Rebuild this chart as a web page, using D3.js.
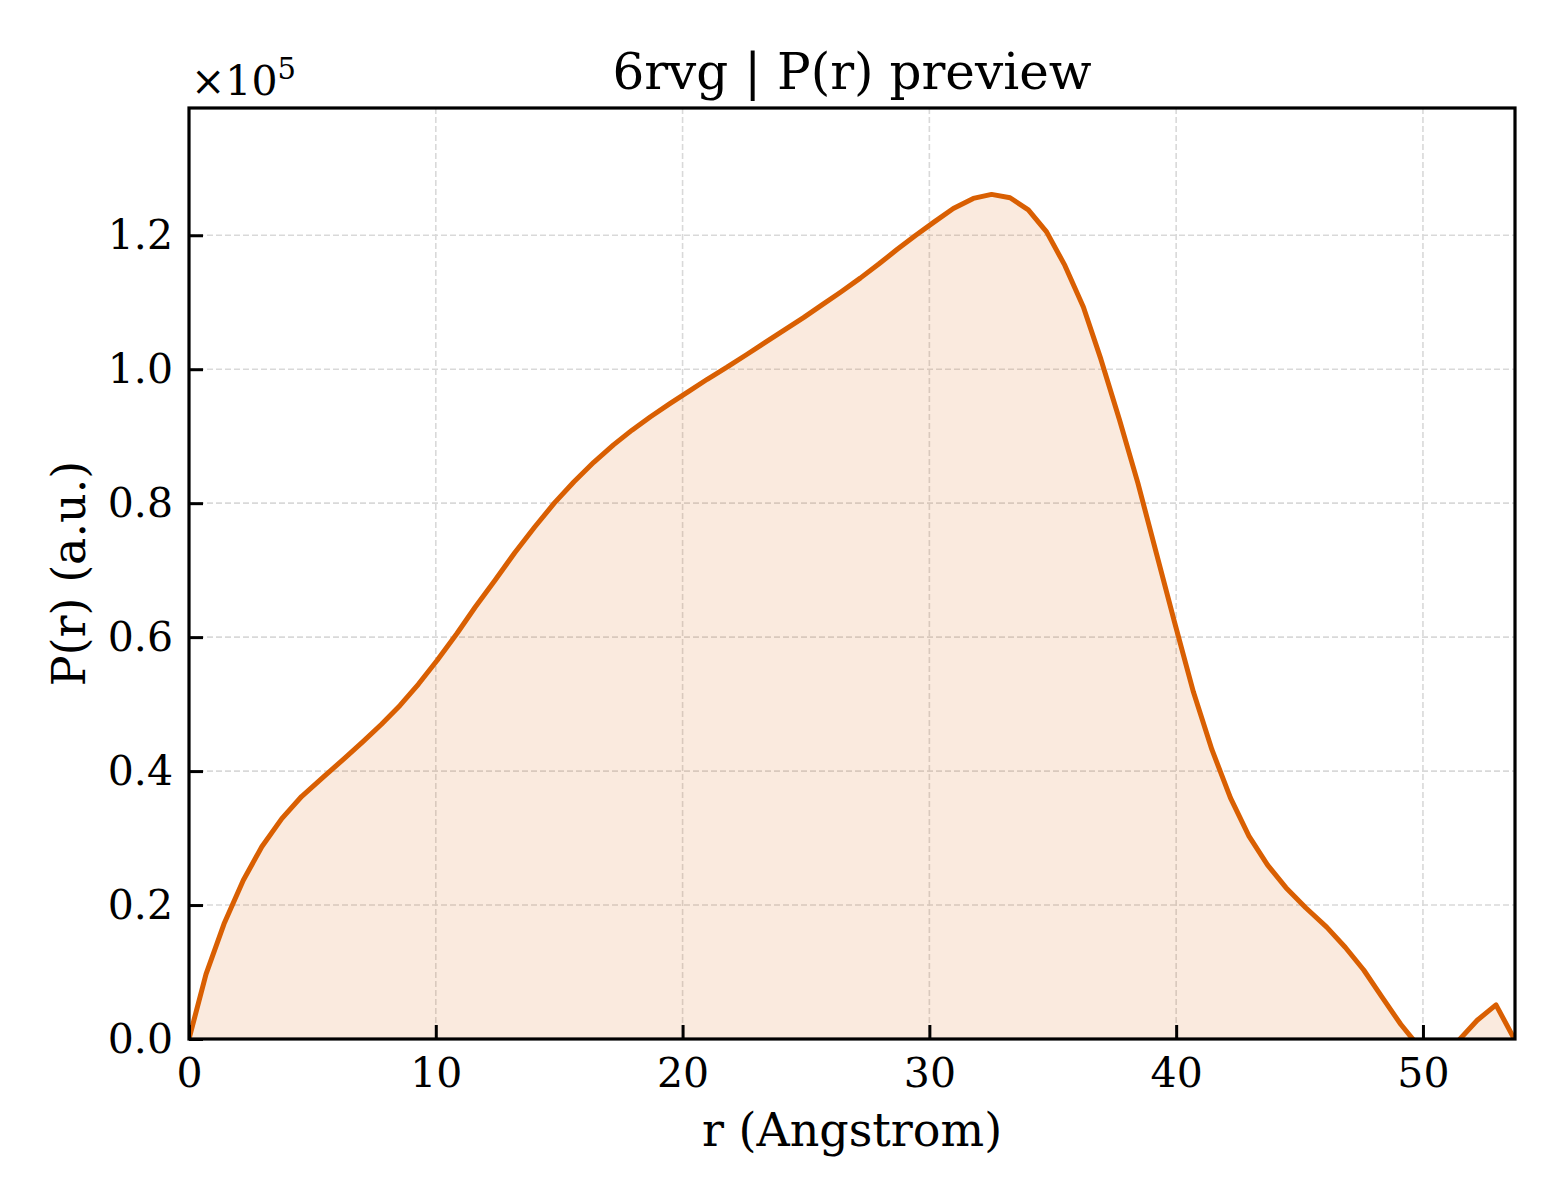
<!DOCTYPE html>
<html>
<head>
<meta charset="utf-8">
<script src="https://cdn.jsdelivr.net/npm/d3@7"></script>
<style>
  html, body { margin: 0; padding: 0; background: #fff; }
  svg { display: block; }
  text { font-family: "DejaVu Serif", serif; fill: #000; }
</style>
</head>
<body>
<svg id="chart" width="1560" height="1200"></svg>
<script>
// ---- data (r in Angstrom, P(r) in a.u.) ----
const rValues = [
  0, 0.69, 1.42, 2.2, 2.95, 3.76, 4.56, 5.44, 6.3, 7.05, 7.8, 8.55, 9.3, 10.05,
  10.85, 11.6, 12.4, 13.2, 14.0, 14.8, 15.6, 16.4, 17.2, 17.95, 18.7, 19.5,
  20.25, 21.0, 21.8, 22.6, 23.35, 24.1, 24.9, 25.65, 26.4, 27.2, 27.95, 28.7,
  29.45, 30.2, 30.97, 31.78, 32.52, 33.27, 34.01, 34.75, 35.49, 36.24, 36.95,
  37.7, 38.45, 39.2, 39.95, 40.7, 41.45, 42.2, 42.95, 43.7, 44.45, 45.25, 46.1,
  46.85, 47.6, 48.35, 49.1, 49.85, 50.6, 51.4, 52.2, 52.96, 53.73
];
const pValues = [
  0, 9700, 17200, 23700, 28700, 32900, 36200, 39100, 41900, 44400, 47000, 49800,
  53000, 56500, 60500, 64500, 68500, 72600, 76400, 80000, 83200, 86100, 88700,
  90900, 92900, 94900, 96700, 98500, 100300, 102200, 104000, 105800, 107700,
  109600, 111500, 113600, 115700, 117900, 120000, 122000, 124000, 125500,
  126100, 125600, 123800, 120500, 115500, 109300, 101500, 92500, 83000, 72500,
  62000, 51800, 43200, 36000, 30300, 26000, 22600, 19600, 16700, 13700, 10300,
  6200, 2200, -1200, -2000, -400, 2800, 5100, -200
];
const xTicks = [0, 10, 20, 30, 40, 50];
const yTicks = [0, 20000, 40000, 60000, 80000, 100000, 120000];
const titleText = "6rvg | P(r) preview";
const xLabelText = "r (Angstrom)";
const yLabelText = "P(r) (a.u.)";

// ---- layout ----
const svg = d3.select("#chart");
const L = 189, R = 1515, T = 108, B = 1039;
const x = d3.scaleLinear().domain([0, 53.73]).range([L, R]);
const y = d3.scaleLinear().domain([0, 139000]).range([B, T]);
const lineColor = "#d95f02";

const data = rValues.map((r, i) => ({ r, p: pValues[i] }));

svg.append("defs").append("clipPath").attr("id", "clip")
  .append("rect").attr("x", L).attr("y", T).attr("width", R - L).attr("height", B - T);

// grid
const grid = svg.append("g");
grid.selectAll("line.gx").data(xTicks).join("line")
  .attr("x1", d => x(d)).attr("x2", d => x(d)).attr("y1", T).attr("y2", B)
  .attr("stroke", "#d9d9d9").attr("stroke-width", 1.6).attr("stroke-dasharray", "6,3");
grid.selectAll("line.gy").data(yTicks).join("line")
  .attr("x1", L).attr("x2", R).attr("y1", d => y(d)).attr("y2", d => y(d))
  .attr("stroke", "#d9d9d9").attr("stroke-width", 1.6).attr("stroke-dasharray", "6,3");

const plot = svg.append("g").attr("clip-path", "url(#clip)");
plot.append("path").datum(data)
  .attr("d", d3.area().x(d => x(d.r)).y0(y(0)).y1(d => y(d.p)))
  .attr("fill", lineColor).attr("fill-opacity", 0.13);
plot.append("path").datum(data)
  .attr("d", d3.line().x(d => x(d.r)).y(d => y(d.p)))
  .attr("fill", "none").attr("stroke", lineColor).attr("stroke-width", 5)
  .attr("stroke-linejoin", "round");

// axes (inward ticks)
const xAxis = svg.append("g").attr("transform", `translate(0,${B})`)
  .call(d3.axisBottom(x).tickValues(xTicks).tickSize(-14).tickPadding(19).tickFormat(d3.format("d")));
const yAxis = svg.append("g").attr("transform", `translate(${L},0)`)
  .call(d3.axisLeft(y).tickValues(yTicks).tickSize(-14).tickPadding(16).tickFormat(d => (d / 1e5).toFixed(1)));
[xAxis, yAxis].forEach(a => {
  a.select(".domain").remove();
  a.selectAll(".tick line").attr("stroke", "#000").attr("stroke-width", 3);
  a.selectAll(".tick text").attr("font-family", "DejaVu Serif").attr("font-size", 41).attr("fill", "#000");
});

// frame
svg.append("rect").attr("x", L).attr("y", T).attr("width", R - L).attr("height", B - T)
  .attr("fill", "none").attr("stroke", "#000").attr("stroke-width", 3.2);

// texts
svg.append("text").attr("x", (L + R) / 2).attr("y", 89).attr("text-anchor", "middle")
  .attr("font-size", 50).text(titleText);
svg.append("text").attr("x", (L + R) / 2).attr("y", 1146).attr("text-anchor", "middle")
  .attr("font-size", 46).text(xLabelText);
svg.append("text").attr("transform", `translate(85,${(T + B) / 2}) rotate(-90)`)
  .attr("text-anchor", "middle").attr("font-size", 46).text(yLabelText);
const off = svg.append("text").attr("x", 191).attr("y", 95).attr("font-size", 41);
off.append("tspan").text("\u00d710");
off.append("tspan").attr("dy", -16).attr("font-size", 29).text("5");
</script>
</body>
</html>
